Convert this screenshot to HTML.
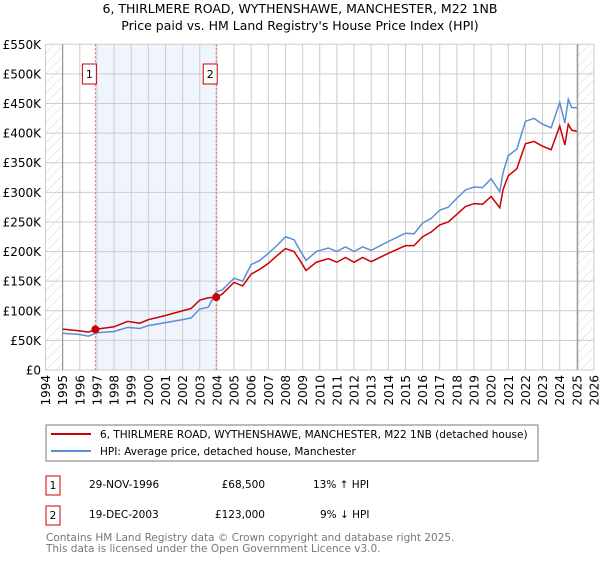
<!DOCTYPE html>
<html><head><meta charset="utf-8"><style>
body{margin:0;background:#fff;font-family:"DejaVu Sans","Liberation Sans",sans-serif;}
svg text{font-family:"DejaVu Sans","Liberation Sans",sans-serif;}
</style></head><body>
<svg id="c" width="600" height="560" xmlns="http://www.w3.org/2000/svg">
<defs><pattern id="hatch" width="7" height="7" patternUnits="userSpaceOnUse" patternTransform="rotate(45)"><line x1="0" y1="0" x2="0" y2="7" stroke="#d8d8d8" stroke-width="1"/></pattern></defs>
<text x="300" y="13" text-anchor="middle" font-size="12.5">6, THIRLMERE ROAD, WYTHENSHAWE, MANCHESTER, M22 1NB</text>
<text x="300" y="30" text-anchor="middle" font-size="12.5">Price paid vs. HM Land Registry's House Price Index (HPI)</text>
<g id="plot"></g>
<g>
<rect x="46" y="425" width="492" height="36" fill="#fff" stroke="#777"/>
<line x1="51" y1="434" x2="91" y2="434" stroke="#cc0000" stroke-width="2"/>
<text x="100" y="438" font-size="10.5">6, THIRLMERE ROAD, WYTHENSHAWE, MANCHESTER, M22 1NB (detached house)</text>
<line x1="51" y1="451" x2="91" y2="451" stroke="#5b8fd4" stroke-width="2"/>
<text x="100" y="455" font-size="10.5">HPI: Average price, detached house, Manchester</text>
</g>
<g font-size="10.5">
<rect x="46" y="476" width="14" height="19" fill="#fff" stroke="#cc0000"/><text x="53" y="489" text-anchor="middle">1</text>
<text x="89" y="488">29-NOV-1996</text><text x="265" y="488" text-anchor="end">£68,500</text><text x="313" y="488">13% ↑ HPI</text>
<rect x="46" y="506" width="14" height="19" fill="#fff" stroke="#cc0000"/><text x="53" y="519" text-anchor="middle">2</text>
<text x="89" y="518">19-DEC-2003</text><text x="265" y="518" text-anchor="end">£123,000</text><text x="320" y="518">9% ↓ HPI</text>
</g>
<text x="46" y="541" font-size="10.5" fill="#777">Contains HM Land Registry data © Crown copyright and database right 2025.</text>
<text x="46" y="552" font-size="10.5" fill="#777">This data is licensed under the Open Government Licence v3.0.</text>
</svg>
<script>
const hpiYears=[1995,1996,1996.5,1997,1998,1998.8,1999.5,2000,2001,2002,2002.5,2003,2003.5,2003.96,2004.3,2005,2005.5,2006,2006.5,2007,2007.5,2008,2008.5,2008.85,2009.2,2009.8,2010.5,2011,2011.5,2012,2012.5,2013,2014,2015,2015.5,2016,2016.5,2017,2017.5,2018,2018.5,2019,2019.5,2020,2020.5,2020.7,2021,2021.5,2022,2022.5,2023,2023.5,2024,2024.3,2024.5,2024.7,2025];
const hpiValues=[62,60,57,63,65,72,70,75,80,85,88,103,106,132,135,155,150,178,185,197,210,225,220,202,185,200,206,200,208,200,208,202,217,231,230,248,256,270,275,290,304,309,308,323,301,334,362,373,420,425,415,409,452,417,457,443,443];
const priceValues=[69,66,64,69,73,82,79,85,92,100,104,118,122,123,128,148,142,162,170,180,193,205,200,185,168,182,188,182,190,182,190,183,197,210,210,225,233,245,250,263,276,281,280,293,274,305,328,340,382,386,378,372,412,380,415,405,403];
const sales=[{n:"1",year:1996.91,value:68.5},{n:"2",year:2003.96,value:123}];
const yTicks=[0,50,100,150,200,250,300,350,400,450,500,550];
const xTicks=[1994,1995,1996,1997,1998,1999,2000,2001,2002,2003,2004,2005,2006,2007,2008,2009,2010,2011,2012,2013,2014,2015,2016,2017,2018,2019,2020,2021,2022,2023,2024,2025,2026];
const NS="http://www.w3.org/2000/svg";
const X0=45.5,X1=594,Y0=370,Y1=44.3;
const xs=y=>X0+(y-1994)/32*(X1-X0);
const ys=v=>Y0-v/550*(Y0-Y1);
const g=document.getElementById('plot');
function mk(t,a){const e=document.createElementNS(NS,t);for(const k in a)e.setAttribute(k,a[k]);g.appendChild(e);return e;}
let e;
e=mk('rect',{x:xs(1996.91),y:Y1,width:xs(2003.96)-xs(1996.91),height:Y0-Y1,fill:'#f0f4fd'});


e=mk('rect',{x:X0,y:Y1,width:xs(1995)-X0,height:Y0-Y1,fill:'url(#hatch)'});


e=mk('rect',{x:xs(2025.05),y:Y1,width:X1-xs(2025.05),height:Y0-Y1,fill:'url(#hatch)'});


yTicks.forEach(v=>{
 e=mk('line',{x1:X0,x2:X1,y1:ys(v),y2:ys(v),stroke:'#ccc'});
 
 
 e=mk('text',{x:41,y:ys(v)+4.5,'text-anchor':'end','font-size':'12'});
 e.textContent=v===0?'£0':'£'+v+'K';
 
 
});
xTicks.forEach(y=>{
 e=mk('line',{x1:xs(y),x2:xs(y),y1:Y1,y2:Y0,stroke:'#ccc'});
 
 
 e=mk('text',{x:0,y:0,'font-size':'12','text-anchor':'end',transform:`translate(${xs(y)+4.5},375) rotate(-90)`});
 e.textContent=y;
 
 
});
e=mk('line',{x1:xs(1995),x2:xs(1995),y1:Y1,y2:Y0,stroke:'#888'});


e=mk('line',{x1:xs(2025.05),x2:xs(2025.05),y1:Y1,y2:Y0,stroke:'#888'});


sales.forEach(s=>{
 e=mk('line',{x1:xs(s.year),x2:xs(s.year),y1:Y1,y2:Y0,stroke:'#e06060','stroke-dasharray':'2,2'});
 
 
});
e=mk('polyline',{points:hpiYears.map((y,i)=>xs(y)+','+ys(hpiValues[i])).join(' '),fill:'none',stroke:'#5b8fd4','stroke-width':'1.5'});


e=mk('polyline',{points:hpiYears.map((y,i)=>xs(y)+','+ys(priceValues[i])).join(' '),fill:'none',stroke:'#cc0000','stroke-width':'1.5'});


sales.forEach(s=>{
 e=mk('circle',{cx:xs(s.year),cy:ys(s.value),r:4,fill:'#cc0000'});
 
 
 e=mk('rect',{x:xs(s.year)-13,y:64,width:14,height:20,fill:'#fff',stroke:'#cc0000'});
 
 
 e=mk('text',{x:xs(s.year)-6,y:78,'text-anchor':'middle','font-size':'11'});
 e.textContent=s.n;
 
 
});
</script>
</body></html>
